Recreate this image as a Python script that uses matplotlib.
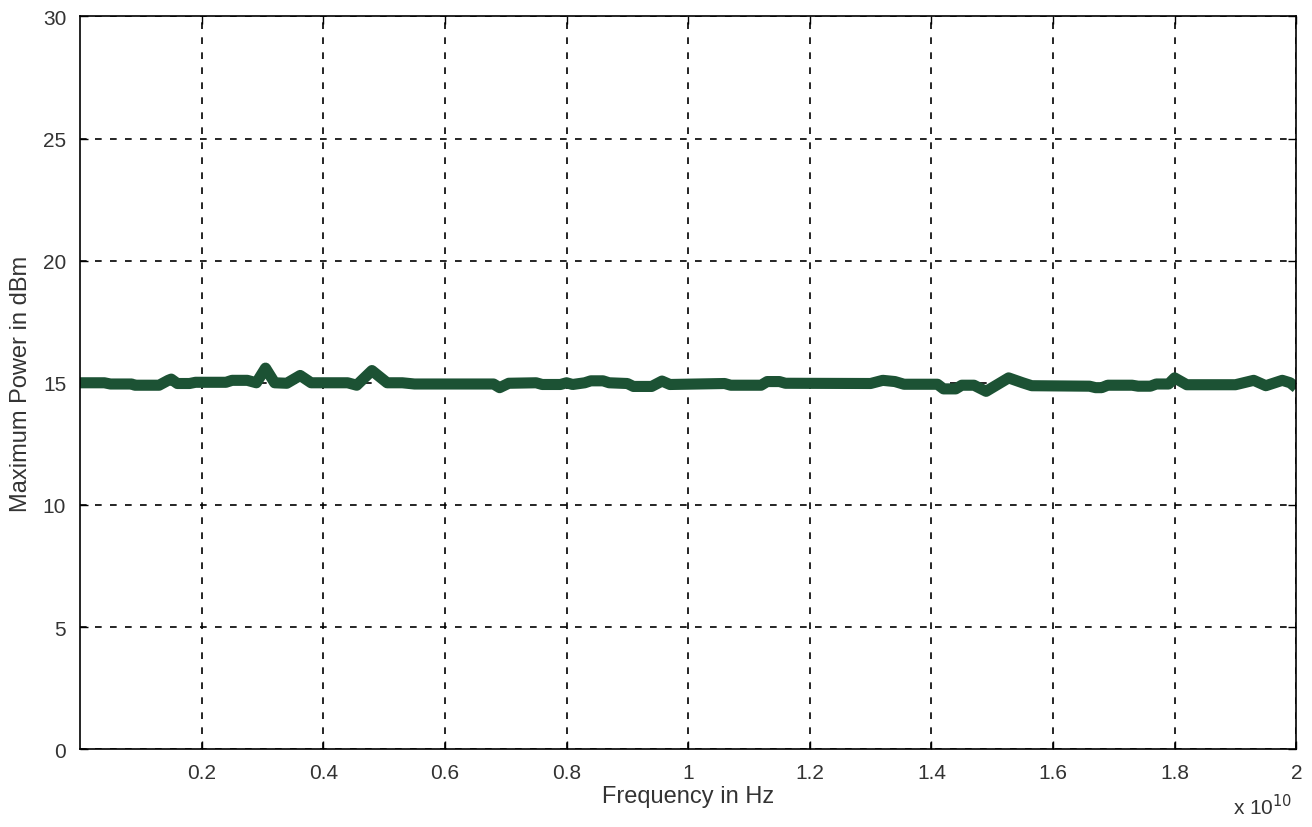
import numpy as np
import matplotlib
matplotlib.use('Agg')
import matplotlib.pyplot as plt

#frequency in units of 1e10 Hz, power in dBm
freq = [0.00, 0.04, 0.05, 0.085, 0.09, 0.13, 0.145, 0.15, 0.16, 0.18, 0.19, 0.24, 0.25, 0.275,
        0.29, 0.305, 0.32, 0.34, 0.362, 0.38, 0.44, 0.455, 0.48, 0.505, 0.53, 0.55, 0.68, 0.69,
        0.705, 0.75, 0.76, 0.79, 0.80, 0.81, 0.83, 0.84, 0.86, 0.87, 0.90, 0.91, 0.94, 0.957,
        0.97, 1.06, 1.07, 1.12, 1.13, 1.15, 1.16, 1.30, 1.32, 1.34, 1.355, 1.41, 1.42, 1.44,
        1.45, 1.47, 1.49, 1.527, 1.55, 1.565, 1.66, 1.67, 1.68, 1.69, 1.73, 1.74, 1.76, 1.77,
        1.79, 1.80, 1.82, 1.90, 1.93, 1.95, 1.977, 1.99, 2.00]
power = [15.0, 15.0, 14.95, 14.95, 14.9, 14.9, 15.1, 15.15, 14.97, 14.97, 15.02, 15.02, 15.1, 15.1,
         15.0, 15.6, 15.0, 14.98, 15.3, 15.0, 15.0, 14.9, 15.5, 15.0, 15.0, 14.95, 14.95, 14.8,
         14.98, 15.0, 14.93, 14.93, 15.0, 14.93, 15.0, 15.08, 15.08, 15.0, 14.97, 14.85, 14.85, 15.07,
         14.93, 14.97, 14.9, 14.9, 15.05, 15.05, 14.98, 14.97, 15.1, 15.05, 14.94, 14.94, 14.75, 14.75,
         14.9, 14.9, 14.65, 15.2, 15.0, 14.88, 14.86, 14.8, 14.8, 14.9, 14.9, 14.86, 14.86, 14.95,
         14.95, 15.2, 14.92, 14.92, 15.1, 14.88, 15.1, 15.0, 14.8]

xticks = [0.2, 0.4, 0.6, 0.8, 1, 1.2, 1.4, 1.6, 1.8, 2]
xticklabels = ['0.2', '0.4', '0.6', '0.8', '1', '1.2', '1.4', '1.6', '1.8', '2']
yticks = [0, 5, 10, 15, 20, 25, 30]

plt.rcParams['font.family'] = ['Liberation Sans', 'DejaVu Sans']
txt = '#333333'

fig = plt.figure(figsize=(13.12, 8.28), dpi=100)
ax = fig.add_axes([0.061, 0.094, 0.927, 0.885])

ax.plot(np.array(freq) * 1e10, power, '-', color='#1c5234', lw=8,
        solid_joinstyle='round', solid_capstyle='butt')

ax.set_xlim(0, 2e10)
ax.set_ylim(0, 30)
ax.set_xticks(np.array(xticks) * 1e10)
ax.set_xticklabels(xticklabels)
ax.set_yticks(yticks)
ax.tick_params(direction='in', length=6, width=1, labelsize=15, labelcolor=txt, pad=10,
               top=True, right=True)
ax.grid(True, color='black', linestyle=(0, (4, 5)), linewidth=1.2)
for s in ax.spines.values():
    s.set_linewidth(1.2)

ax.set_xlabel('Frequency in Hz', fontsize=17, color=txt, labelpad=2)
ax.set_ylabel('Maximum Power in dBm', fontsize=17, color=txt, labelpad=8)
fig.text(0.985, 0.026, r'x 10$^{10}$', fontsize=15, color=txt, ha='right', va='center')

fig.savefig('out.png', dpi=100)
